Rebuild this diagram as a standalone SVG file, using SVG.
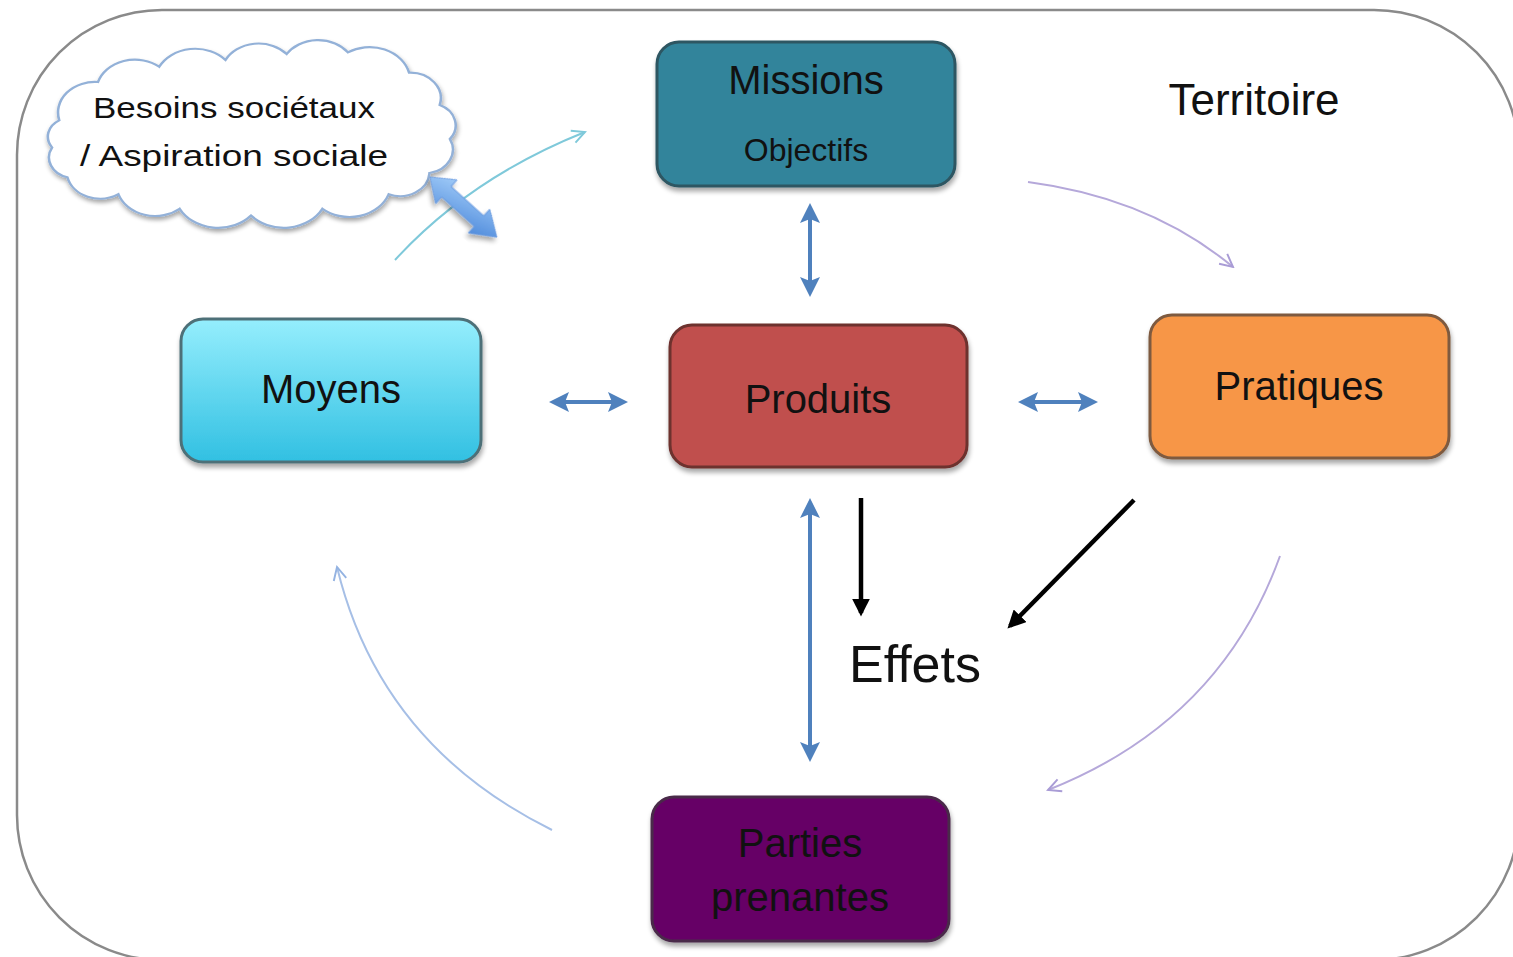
<svg xmlns="http://www.w3.org/2000/svg" width="1513" height="957" viewBox="0 0 1513 957">
<defs>
<style>
.lbl{font-family:"Liberation Sans","DejaVu Sans",sans-serif;fill:#111;text-anchor:middle}
.node{stroke-width:3}
.blue{stroke:#4F81BD;stroke-width:4;fill:none}
.black{stroke:#000;stroke-width:4.5;fill:none}
.thin{fill:none;stroke-width:2}
</style>
<linearGradient id="gMoy" x1="0" y1="0" x2="0" y2="1">
<stop offset="0" stop-color="#95EEFD"/><stop offset="1" stop-color="#31C0E2"/>
</linearGradient>
<linearGradient id="gFat" x1="0" y1="0" x2="1" y2="1">
<stop offset="0" stop-color="#A9D2FB"/><stop offset="1" stop-color="#4583D8"/>
</linearGradient>
<filter id="sh" x="-10%" y="-10%" width="130%" height="130%">
<feGaussianBlur in="SourceAlpha" stdDeviation="2.5"/>
<feOffset dx="1" dy="4" result="o"/>
<feComponentTransfer><feFuncA type="linear" slope="0.35"/></feComponentTransfer>
<feMerge><feMergeNode/><feMergeNode in="SourceGraphic"/></feMerge>
</filter>
<marker id="bh" viewBox="0 0 10 10" refX="8" refY="5" markerWidth="5" markerHeight="5" orient="auto-start-reverse" markerUnits="strokeWidth">
<path d="M0,0 L10,5 L0,10 L2,5 z" fill="#4F81BD"/>
</marker>
<marker id="kh" viewBox="0 0 10 10" refX="8" refY="5" markerWidth="4" markerHeight="4" orient="auto" markerUnits="strokeWidth">
<path d="M0,0 L10,5 L0,10 z" fill="#000"/>
</marker>
<marker id="ch" viewBox="0 0 10 10" refX="9" refY="5" markerWidth="8" markerHeight="8" orient="auto" markerUnits="strokeWidth">
<path d="M1,1 L9,5 L1,9" fill="none" stroke="#7FC9DA" stroke-width="1.2"/>
</marker>
<marker id="ph" viewBox="0 0 10 10" refX="9" refY="5" markerWidth="8" markerHeight="8" orient="auto" markerUnits="strokeWidth">
<path d="M1,1 L9,5 L1,9" fill="none" stroke="#A99CD6" stroke-width="1.2"/>
</marker>
<marker id="lh" viewBox="0 0 10 10" refX="9" refY="5" markerWidth="8" markerHeight="8" orient="auto" markerUnits="strokeWidth">
<path d="M1,1 L9,5 L1,9" fill="none" stroke="#94B3E2" stroke-width="1.2"/>
</marker>
</defs>
<rect width="1513" height="957" fill="#fff"/>
<rect id="frame" x="17" y="10" width="1502" height="950" rx="145" ry="145" fill="none" stroke="#8a8a8a" stroke-width="2.5"/>

<g id="territoire"><text class="lbl" x="1254" y="115" font-size="44">Territoire</text></g>

<g id="besoins">
<path transform="translate(-4,20) scale(1.02,0.85)" d="M62,118 A36,36 0 0 1 100,73 A38,38 0 0 1 160,55 A40,40 0 0 1 225,47 A37,37 0 0 1 285,40 A37,37 0 0 1 345,38 A40,40 0 0 1 405,62 A30,30 0 0 1 435,100 A26,26 0 0 1 445,140 A28,28 0 0 1 425,180 A29,29 0 0 1 385,205 A41,41 0 0 1 320,222 A43,43 0 0 1 250,230 A43,43 0 0 1 180,222 A38,38 0 0 1 120,205 A33,33 0 0 1 70,185 A24,24 0 0 1 55,150 A22,22 0 0 1 62,118 z" fill="#fff" stroke="#93B1D8" stroke-width="2.5" filter="url(#sh)"/>
<text class="lbl" x="234" y="118" font-size="30" textLength="282" lengthAdjust="spacingAndGlyphs">Besoins sociétaux</text>
<text class="lbl" x="234" y="166" font-size="30" textLength="308" lengthAdjust="spacingAndGlyphs">/ Aspiration sociale</text>
</g>

<g id="missions">
<rect class="node" x="657" y="42" width="298" height="144" rx="22" fill="#31849B" stroke="#2D5662" filter="url(#sh)"/>
<text class="lbl" x="806" y="94" font-size="40">Missions</text>
<text class="lbl" x="806" y="161" font-size="32">Objectifs</text>
</g>

<g id="moyens">
<rect class="node" x="181" y="319" width="300" height="143" rx="22" fill="url(#gMoy)" stroke="#4E7078" filter="url(#sh)"/>
<text class="lbl" x="331" y="403" font-size="40">Moyens</text>
</g>

<g id="produits">
<rect class="node" x="670" y="325" width="297" height="142" rx="22" fill="#C0504D" stroke="#6D302E" filter="url(#sh)"/>
<text class="lbl" x="818" y="413" font-size="40">Produits</text>
</g>

<g id="pratiques">
<rect class="node" x="1150" y="315" width="299" height="143" rx="22" fill="#F79646" stroke="#7E5A3F" filter="url(#sh)"/>
<text class="lbl" x="1299" y="400" font-size="40">Pratiques</text>
</g>

<g id="parties">
<rect class="node" x="652" y="797" width="297" height="144" rx="22" fill="#660066" stroke="#4a2a4a" filter="url(#sh)"/>
<text class="lbl" x="800" y="857" font-size="40" fill="#1a0a1a">Parties</text>
<text class="lbl" x="800" y="911" font-size="40">prenantes</text>
</g>

<g id="effets"><text class="lbl" x="915" y="682" font-size="52">Effets</text></g>

<g id="connectors">
<line class="blue" x1="810" y1="207" x2="810" y2="293" marker-start="url(#bh)" marker-end="url(#bh)"/>
<line class="blue" x1="553" y1="402" x2="624" y2="402" marker-start="url(#bh)" marker-end="url(#bh)"/>
<line class="blue" x1="1022" y1="402" x2="1094" y2="402" marker-start="url(#bh)" marker-end="url(#bh)"/>
<line class="blue" x1="810" y1="502" x2="810" y2="758" marker-start="url(#bh)" marker-end="url(#bh)"/>
<line class="black" x1="861" y1="498" x2="861" y2="613" marker-end="url(#kh)"/>
<line class="black" x1="1134" y1="500" x2="1010" y2="626" marker-end="url(#kh)"/>
<path class="thin" d="M395,260 Q470,178 585,132" stroke="#7FC9DA" marker-end="url(#ch)"/>
<path class="thin" d="M1028,182 Q1150,198 1233,267" stroke="#B5A8DA" marker-end="url(#ph)"/>
<path class="thin" d="M1280,556 Q1220,722 1048,790" stroke="#B5A8DA" marker-end="url(#ph)"/>
<path class="thin" d="M552,830 Q380,745 337,567" stroke="#A6BFE6" marker-end="url(#lh)"/>
<polygon points="0,0 22,-16 22,-7 66,-7 66,-16 90,0 66,16 66,7 22,7 22,16" transform="translate(430,177) rotate(42)" fill="url(#gFat)" stroke="#6b9be0" stroke-width="1" filter="url(#sh)"/>
</g>
</svg>
